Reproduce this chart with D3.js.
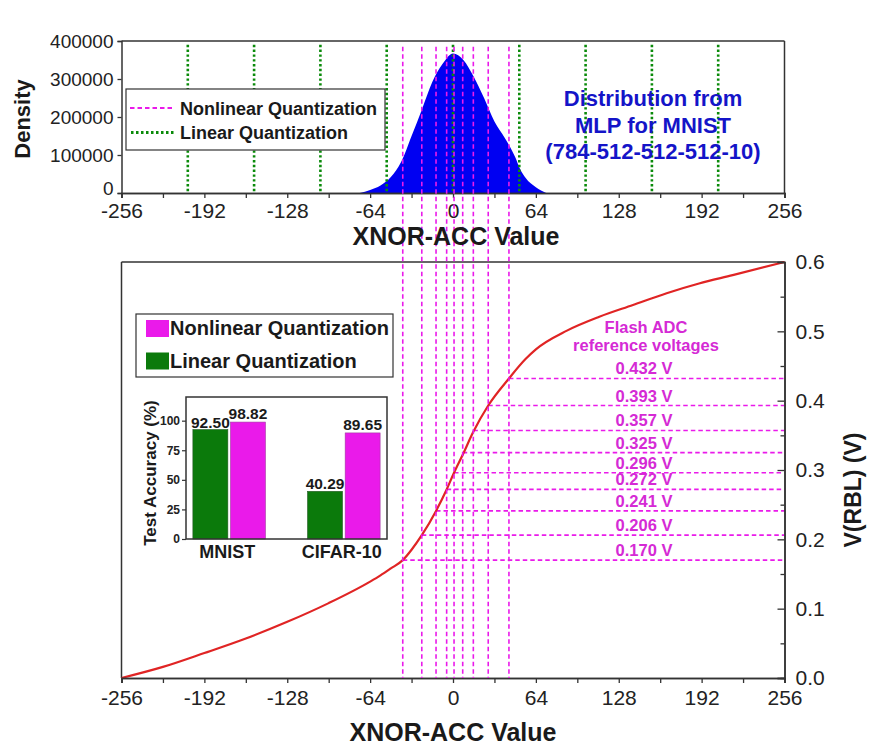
<!DOCTYPE html>
<html><head><meta charset="utf-8">
<script src="https://cdn.jsdelivr.net/npm/d3@7"></script>
<style>
html,body{margin:0;padding:0;background:#fff;}
svg{display:block;font-family:"Liberation Sans",Arial,sans-serif;}
</style></head>
<body>
<svg id="chart" width="878" height="746"></svg>
<script>
// ---------- DATA ----------
const xTicks = [-256, -192, -128, -64, 0, 64, 128, 192, 256];
const densityTicks = [0, 100000, 200000, 300000, 400000];
const densityX = [-72, -64, -56, -48, -40, -32, -24, -16, -8, 0, 8, 16, 24, 32, 40, 44, 48, 52, 56, 64, 72];
const densityY = [0, 8000, 20000, 42000, 82000, 150000, 220000, 292000, 340000, 367000, 350000, 306000, 250000, 188000, 145000, 122000, 95000, 62000, 40000, 15000, 0];
const linearLevels = [-204.8, -153.6, -102.4, -51.2, 0, 51.2, 102.4, 153.6, 204.8];
const nonlinearLevels = [-38.8, -24.1, -13.1, -4.9, 0.8, 7.5, 15.7, 27.2, 43.2];
const refVoltages = [0.170, 0.206, 0.241, 0.272, 0.296, 0.325, 0.357, 0.393, 0.432];
const refLabels = ["0.170 V", "0.206 V", "0.241 V", "0.272 V", "0.296 V", "0.325 V", "0.357 V", "0.393 V", "0.432 V"];
const curveX = [-256, -224, -192, -160, -128, -96, -64, -56, -48, -38.8, -32, -24.1, -13.1, -4.9, 0.8, 7.5, 15.7, 27.2, 43.2, 56, 64, 88, 113, 139, 165, 190, 216, 256];
const curveV = [0.000, 0.016, 0.036, 0.057, 0.081, 0.108, 0.139, 0.148, 0.158, 0.170, 0.185, 0.206, 0.241, 0.272, 0.296, 0.322, 0.355, 0.393, 0.432, 0.460, 0.474, 0.501, 0.521, 0.538, 0.555, 0.569, 0.581, 0.600];
const vTicks = [0, 0.1, 0.2, 0.3, 0.4, 0.5, 0.6];
const vTickLabels = ["0.0", "0.1", "0.2", "0.3", "0.4", "0.5", "0.6"];
const barCategories = ["MNIST", "CIFAR-10"];
const linearAcc = [92.50, 40.29];
const nonlinearAcc = [98.82, 89.65];
const accTicks = [0, 25, 50, 75, 100];
const seriesNames = ["Nonlinear Quantization", "Linear Quantization"];
const annotationLines = ["Distribution from", "MLP for MNIST", "(784-512-512-512-10)"];

// ---------- STYLE ----------
const MAG = "#ea1aea", MAGTXT = "#d52ad5", GREEN = "#0a8a0a", BARGREEN = "#0b7a0b", BLUE = "#0000f2", RED = "#e02424", AX = "#333";
const fmtInt = d => String(d);

const svg = d3.select("#chart");

// ---------- SCALES ----------
const x = d3.scaleLinear().domain([-256, 256]).range([121.5, 784.5]);
const yTop = d3.scaleLinear().domain([0, 400000]).range([193, 41]);
const yBot = d3.scaleLinear().domain([0, 0.6]).range([678, 262]);

// ---------- TOP CHART ----------
const topG = svg.append("g");
const dens = densityX.map((d, i) => [d, densityY[i]]);
topG.append("path").datum(dens)
  .attr("d", d3.area().x(d => x(d[0])).y0(yTop(0)).y1(d => yTop(d[1])).curve(d3.curveMonotoneX))
  .attr("fill", BLUE);
topG.selectAll(".lin").data(linearLevels).join("line")
  .attr("x1", d => x(d)).attr("x2", d => x(d))
  .attr("y1", yTop(390000)).attr("y2", yTop(0))
  .attr("stroke", GREEN).attr("stroke-width", 2.6).attr("stroke-dasharray", "2.4,2.4");
const gxt = topG.append("g").attr("transform", `translate(0,${yTop(0)})`)
  .call(d3.axisBottom(x).tickValues(xTicks).tickSize(5).tickPadding(5).tickFormat(fmtInt));
topG.append("g").attr("transform", `translate(0,${yTop(0)})`)
  .call(d3.axisBottom(x).tickValues(xTicks.slice(0, -1).map(d => d + 32)).tickSize(5).tickFormat(""));
const gyt = topG.append("g").attr("transform", `translate(${x(-256)},0)`)
  .call(d3.axisLeft(yTop).tickValues(densityTicks).tickSize(4).tickPadding(4).tickFormat(fmtInt));
topG.append("line").attr("x1", x(-256)).attr("x2", x(256)).attr("y1", yTop(400000)).attr("y2", yTop(400000)).attr("stroke", AX).attr("stroke-width", 1.5);
topG.append("line").attr("x1", x(256)).attr("x2", x(256)).attr("y1", yTop(400000)).attr("y2", yTop(0)).attr("stroke", AX).attr("stroke-width", 1.5);

// ---------- BOTTOM CHART ----------
const botG = svg.append("g");
botG.append("line").attr("x1", x(-256)).attr("x2", x(-256)).attr("y1", yBot(0.6)).attr("y2", yBot(0)).attr("stroke", AX).attr("stroke-width", 1.5);
botG.append("line").attr("x1", x(-256)).attr("x2", x(256)).attr("y1", yBot(0.6)).attr("y2", yBot(0.6)).attr("stroke", AX).attr("stroke-width", 1.5);

botG.selectAll(".hl").data(refVoltages).join("line")
  .attr("x1", (d, i) => x(nonlinearLevels[i])).attr("x2", x(256))
  .attr("y1", d => yBot(d)).attr("y2", d => yBot(d))
  .attr("stroke", MAG).attr("stroke-width", 1.6).attr("stroke-dasharray", "4.5,3");
svg.selectAll(".vl").data(nonlinearLevels).join("line")
  .attr("x1", d => x(d)).attr("x2", d => x(d))
  .attr("y1", yTop(385000)).attr("y2", yBot(0))
  .attr("stroke", MAG).attr("stroke-width", 1.6).attr("stroke-dasharray", "4.5,3");

const cv = curveX.map((d, i) => [d, curveV[i]]);
botG.append("path").datum(cv)
  .attr("d", d3.line().x(d => x(d[0])).y(d => yBot(d[1])).curve(d3.curveMonotoneX))
  .attr("fill", "none").attr("stroke", RED).attr("stroke-width", 2.2);

const gxb = botG.append("g").attr("transform", `translate(0,${yBot(0)})`)
  .call(d3.axisBottom(x).tickValues(xTicks).tickSize(5).tickPadding(7).tickFormat(fmtInt));
botG.append("g").attr("transform", `translate(0,${yBot(0)})`)
  .call(d3.axisBottom(x).tickValues(xTicks.slice(0, -1).map(d => d + 32)).tickSize(5).tickFormat(""));
const gyr = botG.append("g").attr("transform", `translate(${x(256)},0)`)
  .call(d3.axisRight(yBot).tickValues(vTicks).tickSize(-7).tickPadding(17).tickFormat((d, i) => vTickLabels[i]));
botG.append("g").attr("transform", `translate(${x(256)},0)`)
  .call(d3.axisRight(yBot).tickValues(vTicks.slice(0, -1).map(d => d + 0.05)).tickSize(-4).tickFormat(""));

svg.selectAll(".domain").attr("stroke", AX).attr("stroke-width", 1.5);
svg.selectAll(".tick line").attr("stroke", AX).attr("stroke-width", 1.3);
svg.selectAll(".tick text").attr("fill", "#222").attr("font-family", "Liberation Sans, Arial, sans-serif");
gxt.selectAll(".tick text").attr("font-size", 21);
gyt.selectAll(".tick text").attr("font-size", 19);
gyt.selectAll(".tick").filter(d => d === 0).select("text").attr("dy", "0.1em");
gxb.selectAll(".tick text").attr("font-size", 21);
gyr.selectAll(".tick text").attr("font-size", 21).attr("text-anchor", "start").attr("x", 11);

svg.append("text").attr("x", 456).attr("y", 245).attr("text-anchor", "middle")
  .attr("font-size", 25).attr("font-weight", "bold").attr("fill", "#1a1a1a").text("XNOR-ACC Value");
svg.append("text").attr("x", 453).attr("y", 741).attr("text-anchor", "middle")
  .attr("font-size", 25).attr("font-weight", "bold").attr("fill", "#1a1a1a").text("XNOR-ACC Value");
svg.append("text").attr("transform", "translate(30,119) rotate(-90)").attr("text-anchor", "middle")
  .attr("font-size", 22).attr("font-weight", "bold").attr("fill", "#1a1a1a").text("Density");
svg.append("text").attr("transform", "translate(861,490) rotate(-90)").attr("text-anchor", "middle")
  .attr("font-size", 23).attr("font-weight", "bold").attr("fill", "#1a1a1a").text("V(RBL) (V)");

// top legend
const lg = svg.append("g");
lg.append("rect").attr("x", 126).attr("y", 89).attr("width", 259).attr("height", 61)
  .attr("fill", "#fff").attr("stroke", AX).attr("stroke-width", 1.2);
lg.append("line").attr("x1", 130).attr("x2", 174).attr("y1", 108).attr("y2", 108)
  .attr("stroke", MAG).attr("stroke-width", 1.8).attr("stroke-dasharray", "4.5,3");
lg.append("line").attr("x1", 131).attr("x2", 174).attr("y1", 132.5).attr("y2", 132.5)
  .attr("stroke", GREEN).attr("stroke-width", 2.8).attr("stroke-dasharray", "2.5,2.5");
lg.selectAll("text").data(seriesNames).join("text")
  .attr("x", 180).attr("y", (d, i) => 115 + i * 23.5)
  .attr("font-size", 18).attr("font-weight", "bold").attr("fill", "#1a1a1a").text(d => d);

svg.append("g").selectAll("text").data(annotationLines).join("text")
  .attr("x", 653).attr("y", (d, i) => 106 + i * 26.5).attr("text-anchor", "middle")
  .attr("font-size", 22).attr("font-weight", "bold").attr("fill", "#1414c8").text(d => d);

svg.append("text").attr("x", 646).attr("y", 333).attr("text-anchor", "middle")
  .attr("font-size", 16.5).attr("font-weight", "bold").attr("fill", MAGTXT).text("Flash ADC");
svg.append("text").attr("x", 646).attr("y", 351).attr("text-anchor", "middle")
  .attr("font-size", 16.5).attr("font-weight", "bold").attr("fill", MAGTXT).text("reference voltages");
svg.append("g").selectAll("text").data(refVoltages).join("text")
  .attr("x", 644).attr("y", d => yBot(d) - 4).attr("text-anchor", "middle")
  .attr("font-size", 16.5).attr("font-weight", "bold").attr("fill", MAGTXT)
  .text((d, i) => refLabels[i]);

// ---------- INSET BAR CHART ----------
const ins = svg.append("g");
ins.append("rect").attr("x", 136).attr("y", 314).attr("width", 257).attr("height", 63)
  .attr("fill", "#fff").attr("stroke", AX).attr("stroke-width", 1.2);
const legCols = [MAG, BARGREEN];
ins.selectAll(".sw").data(seriesNames).join("rect")
  .attr("x", 146).attr("y", (d, i) => 320 + i * 32.5).attr("width", 23).attr("height", 17)
  .attr("fill", (d, i) => legCols[i]);
ins.selectAll(".lt").data(seriesNames).join("text")
  .attr("x", 170).attr("y", (d, i) => 335 + i * 32.5)
  .attr("font-size", 20).attr("font-weight", "bold").attr("fill", "#1a1a1a").text(d => d);

const xb = d3.scaleBand().domain(barCategories).range([186, 387]).paddingInner(0.367).paddingOuter(0.06);
const xs = d3.scaleBand().domain(["linear", "nonlinear"]).range([0, xb.bandwidth()]).paddingInner(0.07);
const yb = d3.scaleLinear().domain([0, 120]).range([539, 397]);

const groups = ins.selectAll(".grp").data(barCategories).join("g")
  .attr("transform", d => `translate(${xb(d)},0)`);
groups.append("rect").attr("x", xs("linear")).attr("width", xs.bandwidth())
  .attr("y", (d, i) => yb(linearAcc[i])).attr("height", (d, i) => yb(0) - yb(linearAcc[i]))
  .attr("fill", BARGREEN).attr("stroke", "#245a24").attr("stroke-width", 0.6);
groups.append("rect").attr("x", xs("nonlinear")).attr("width", xs.bandwidth())
  .attr("y", (d, i) => yb(nonlinearAcc[i])).attr("height", (d, i) => yb(0) - yb(nonlinearAcc[i]))
  .attr("fill", MAG).attr("stroke", "#a040a0").attr("stroke-width", 0.6);
groups.append("text").attr("x", xs("linear") + xs.bandwidth() / 2)
  .attr("y", (d, i) => yb(linearAcc[i]) - 2).attr("text-anchor", "middle")
  .attr("font-size", 15.5).attr("font-weight", "bold").attr("fill", "#1a1a1a")
  .text((d, i) => linearAcc[i].toFixed(2));
groups.append("text").attr("x", xs("nonlinear") + xs.bandwidth() / 2)
  .attr("y", (d, i) => yb(nonlinearAcc[i]) - 3).attr("text-anchor", "middle")
  .attr("font-size", 15.5).attr("font-weight", "bold").attr("fill", "#1a1a1a")
  .text((d, i) => nonlinearAcc[i].toFixed(2));
groups.append("text").attr("x", xb.bandwidth() / 2 - 2).attr("y", 558).attr("text-anchor", "middle")
  .attr("font-size", 18).attr("font-weight", "bold").attr("fill", "#1a1a1a").text(d => d);

ins.append("rect").attr("x", 186).attr("y", 397).attr("width", 201).attr("height", 142)
  .attr("fill", "none").attr("stroke", AX).attr("stroke-width", 1.5);
const gyi = ins.append("g").attr("transform", "translate(186,0)")
  .call(d3.axisLeft(yb).tickValues(accTicks).tickSize(4).tickPadding(2));
gyi.select(".domain").remove();
gyi.selectAll(".tick line").attr("stroke", AX).attr("stroke-width", 1.2);
gyi.selectAll(".tick text").attr("font-size", 12).attr("font-weight", "bold").attr("fill", "#222");
ins.append("text").attr("transform", "translate(156,473) rotate(-90)").attr("text-anchor", "middle")
  .attr("font-size", 17).attr("font-weight", "bold").attr("fill", "#1a1a1a").text("Test Accuracy (%)");
</script>
</body></html>
